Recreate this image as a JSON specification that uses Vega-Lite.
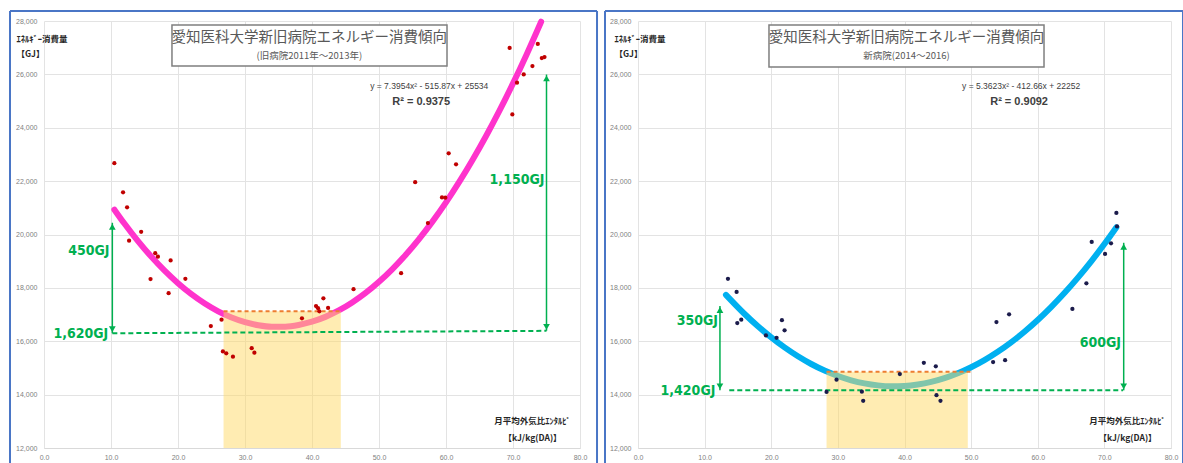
{
  "$schema": "https://vega.github.io/schema/vega-lite/v6.json",
  "padding": {"left": 8, "top": 9, "right": 0, "bottom": 0},
  "bounds": "flush",
  "spacing": 58,
  "background": "white",
  "config": {
    "view": {"stroke": null},
    "font": "Noto Sans CJK JP",
    "axis": {
      "labelFontSize": 7,
      "labelColor": "#7F7F7F",
      "labelFont": "Liberation Sans",
      "ticks": false,
      "gridColor": "#E3E3E3",
      "gridWidth": 1,
      "titleFont": "Noto Sans CJK JP",
      "titleColor": "#262626",
      "titleFontSize": 8.5,
      "titleFontWeight": "bold"
    }
  },
  "datasets": {
    "ptsOld": [
      {"x": 10.5, "y": 22670}, {"x": 11.8, "y": 21580}, {"x": 12.4, "y": 21020}, {"x": 14.5, "y": 20100},
      {"x": 12.7, "y": 19770}, {"x": 16.6, "y": 19300}, {"x": 17.0, "y": 19170}, {"x": 18.9, "y": 19030},
      {"x": 15.9, "y": 18330}, {"x": 21.1, "y": 18340}, {"x": 18.6, "y": 17800}, {"x": 24.9, "y": 16570},
      {"x": 26.5, "y": 16810}, {"x": 26.7, "y": 15620}, {"x": 27.2, "y": 15550}, {"x": 28.2, "y": 15420},
      {"x": 31.0, "y": 15740}, {"x": 31.4, "y": 15570}, {"x": 38.5, "y": 16860}, {"x": 40.6, "y": 17320},
      {"x": 40.9, "y": 17240}, {"x": 41.1, "y": 17120}, {"x": 41.7, "y": 17610}, {"x": 42.4, "y": 17250},
      {"x": 46.2, "y": 17950}, {"x": 53.3, "y": 18550}, {"x": 57.3, "y": 20430}, {"x": 55.4, "y": 21960},
      {"x": 59.4, "y": 21390}, {"x": 59.9, "y": 21380}, {"x": 61.5, "y": 22630}, {"x": 60.4, "y": 23040},
      {"x": 69.9, "y": 24500}, {"x": 70.6, "y": 25690}, {"x": 71.6, "y": 26000}, {"x": 72.9, "y": 26310},
      {"x": 69.5, "y": 26990}, {"x": 73.7, "y": 27140}, {"x": 74.3, "y": 26610}, {"x": 74.7, "y": 26650}
    ],
    "ptsNew": [
      {"x": 13.5, "y": 18340}, {"x": 14.8, "y": 17850}, {"x": 14.9, "y": 16680}, {"x": 15.5, "y": 16810},
      {"x": 19.2, "y": 16220}, {"x": 20.8, "y": 16130}, {"x": 21.6, "y": 16790}, {"x": 22.0, "y": 16410},
      {"x": 28.3, "y": 14100}, {"x": 29.8, "y": 14560}, {"x": 33.6, "y": 14110}, {"x": 33.8, "y": 13770},
      {"x": 39.3, "y": 14770}, {"x": 42.9, "y": 15190}, {"x": 44.7, "y": 15060}, {"x": 44.8, "y": 13980},
      {"x": 45.4, "y": 13770}, {"x": 53.3, "y": 15220}, {"x": 53.8, "y": 16720}, {"x": 55.1, "y": 15290},
      {"x": 55.7, "y": 17010}, {"x": 65.2, "y": 17210}, {"x": 67.3, "y": 18170}, {"x": 68.1, "y": 19720},
      {"x": 70.1, "y": 19270}, {"x": 71.0, "y": 19670}, {"x": 71.8, "y": 20810}, {"x": 71.9, "y": 20300}
    ],
    "fitOld": [
      {"x": 10.5, "y": 20933}, {"x": 12, "y": 20409}, {"x": 14, "y": 19761}, {"x": 16, "y": 19173},
      {"x": 18, "y": 18645}, {"x": 20, "y": 18175}, {"x": 22, "y": 17764}, {"x": 24, "y": 17413},
      {"x": 26, "y": 17121}, {"x": 28, "y": 16888}, {"x": 30, "y": 16714}, {"x": 32, "y": 16599},
      {"x": 34, "y": 16544}, {"x": 36, "y": 16547}, {"x": 38, "y": 16610}, {"x": 40, "y": 16732},
      {"x": 42, "y": 16913}, {"x": 44, "y": 17153}, {"x": 46, "y": 17453}, {"x": 48, "y": 17811},
      {"x": 50, "y": 18229}, {"x": 52, "y": 18706}, {"x": 54, "y": 19242}, {"x": 56, "y": 19837},
      {"x": 58, "y": 20492}, {"x": 60, "y": 21205}, {"x": 62, "y": 21978}, {"x": 64, "y": 22810},
      {"x": 66, "y": 23701}, {"x": 68, "y": 24651}, {"x": 70, "y": 25661}, {"x": 72, "y": 26729},
      {"x": 74.2, "y": 27973}
    ],
    "fitNew": [
      {"x": 13.2, "y": 17739}, {"x": 16, "y": 17022}, {"x": 18, "y": 16562}, {"x": 20, "y": 16144},
      {"x": 22, "y": 15769}, {"x": 24, "y": 15437}, {"x": 26, "y": 15148}, {"x": 28, "y": 14902},
      {"x": 30, "y": 14698}, {"x": 32, "y": 14538}, {"x": 34, "y": 14420}, {"x": 36, "y": 14346},
      {"x": 38, "y": 14314}, {"x": 40, "y": 14325}, {"x": 42, "y": 14379}, {"x": 44, "y": 14476},
      {"x": 46, "y": 14616}, {"x": 48, "y": 14799}, {"x": 50, "y": 15025}, {"x": 52, "y": 15293},
      {"x": 54, "y": 15605}, {"x": 56, "y": 15959}, {"x": 58, "y": 16357}, {"x": 60, "y": 16797},
      {"x": 62, "y": 17280}, {"x": 64, "y": 17806}, {"x": 66, "y": 18375}, {"x": 68, "y": 18986},
      {"x": 70, "y": 19641}, {"x": 71.8, "y": 20267}
    ]
  },
  "hconcat": [
    {
      "width": 536,
      "height": 427,
      "encoding": {
        "x": {"field": "x", "type": "quantitative", "scale": {"domain": [0, 80], "nice": false, "zero": false},
          "axis": {"values": [0, 10, 20, 30, 40, 50, 60, 70, 80], "format": ".1f", "labelFlush": false, "labelPadding": 5,
            "domainColor": "#D9D9D9", "title": ["月平均外気比ｴﾝﾀﾙﾋﾟ", "【kJ/kg(DA)】"], "titleX": 488, "titleY": -32,
            "titleAlign": "center", "titleBaseline": "top", "titleLineHeight": 17}},
        "y": {"field": "y", "type": "quantitative", "scale": {"domain": [12000, 28000], "nice": false, "zero": false},
          "axis": {"values": [12000, 14000, 16000, 18000, 20000, 22000, 24000, 26000, 28000], "format": ",.0f", "labelPadding": 7,
            "domain": false, "title": ["ｴﾈﾙｷﾞｰ消費量", "【GJ】"], "titleX": -28, "titleY": 13, "titleAngle": 0,
            "titleAlign": "left", "titleBaseline": "top", "titleLineHeight": 15}}
      },
      "layer": [
        {
          "data": {"name": "fitOld"},
          "mark": {"type": "line", "color": "#FF33CC", "strokeWidth": 6, "interpolate": "monotone", "strokeCap": "round"}
        },
        {
          "data": {"values": [{"x": 26.8, "x2": 44.3, "y": 12000, "y2": 17120}]},
          "mark": {"type": "rect", "color": "#FFD966", "opacity": 0.5},
          "encoding": {"x2": {"field": "x2"}, "y2": {"field": "y2"}}
        },
        {
          "data": {"values": [{"x": 26.8, "x2": 44.3, "y": 17120, "y2": 17120}]},
          "mark": {"type": "rule", "color": "#ED7D31", "strokeWidth": 2, "strokeDash": [4, 3]},
          "encoding": {"x2": {"field": "x2"}, "y2": {"field": "y2"}}
        },
        {
          "data": {"values": [{"x": 10.2, "x2": 75.0, "y": 16300, "y2": 16390}]},
          "mark": {"type": "rule", "color": "#00B050", "strokeWidth": 2, "strokeDash": [5, 3]},
          "encoding": {"x2": {"field": "x2"}, "y2": {"field": "y2"}}
        },
        {
          "data": {"values": [{"x": 10.2, "x2": 10.2, "y": 16300, "y2": 20440}, {"x": 75.0, "x2": 75.0, "y": 16390, "y2": 26000}]},
          "mark": {"type": "rule", "color": "#00B050", "strokeWidth": 1.5},
          "encoding": {"x2": {"field": "x2"}, "y2": {"field": "y2"}}
        },
        {
          "data": {"values": [{"x": 10.2, "y": 20290}, {"x": 75.0, "y": 25850}]},
          "mark": {"type": "point", "shape": "triangle-up", "filled": true, "color": "#00B050", "size": 45, "opacity": 1}
        },
        {
          "data": {"values": [{"x": 10.2, "y": 16450}, {"x": 75.0, "y": 16540}]},
          "mark": {"type": "point", "shape": "triangle-down", "filled": true, "color": "#00B050", "size": 45, "opacity": 1}
        },
        {
          "data": {"name": "ptsOld"},
          "mark": {"type": "circle", "color": "#C00000", "size": 18, "opacity": 1}
        },
        {
          "data": {"values": [{"x": 19.1, "x2": 60.15, "y": 27850, "y2": 26314}]},
          "mark": {"type": "rect", "fill": "white", "stroke": "#7F7F7F", "strokeWidth": 1.5},
          "encoding": {"x2": {"field": "x2"}, "y2": {"field": "y2"}}
        },
        {
          "data": {"values": [{"x": 39.6, "y": 27370, "t": "愛知医科大学新旧病院エネルギー消費傾向"}]},
          "mark": {"type": "text", "fontSize": 14.5, "color": "#595959", "baseline": "middle", "font": "Noto Sans CJK JP"},
          "encoding": {"text": {"field": "t"}}
        },
        {
          "data": {"values": [{"x": 39.6, "y": 26690, "t": "(旧病院2011年～2013年)"}]},
          "mark": {"type": "text", "fontSize": 9.5, "color": "#595959", "baseline": "middle", "font": "Noto Sans CJK JP"},
          "encoding": {"text": {"field": "t"}}
        },
        {
          "data": {"values": [{"x": 57.5, "y": 25564, "t": "y = 7.3954x² - 515.87x + 25534"}]},
          "mark": {"type": "text", "fontSize": 8.5, "color": "#404040", "baseline": "middle", "font": "Liberation Sans Narrow, Liberation Sans"},
          "encoding": {"text": {"field": "t"}}
        },
        {
          "data": {"values": [{"x": 56.3, "y": 24965, "t": "R² = 0.9375"}]},
          "mark": {"type": "text", "fontSize": 11, "fontWeight": "bold", "color": "#404040", "baseline": "middle", "font": "Liberation Sans Narrow, Liberation Sans"},
          "encoding": {"text": {"field": "t"}}
        },
        {
          "data": {"values": [{"x": 6.7, "y": 19382, "t": "450GJ"}, {"x": 5.5, "y": 16272, "t": "1,620GJ"}, {"x": 70.6, "y": 22042, "t": "1,150GJ"}]},
          "mark": {"type": "text", "fontSize": 14, "fontWeight": "bold", "color": "#00B050", "baseline": "middle", "font": "Liberation Sans Narrow, DejaVu Sans Condensed, Liberation Sans"},
          "encoding": {"text": {"field": "t"}}
        },
        {
          "data": {"values": [
            {"x": -5.075, "y": 28374.7, "x2": -5.075, "y2": 11438},
            {"x": -5.075, "y": 28374.7, "x2": 82.54, "y2": 28374.7},
            {"x": 82.54, "y": 28374.7, "x2": 82.54, "y2": 11438}
          ]},
          "mark": {"type": "rule", "color": "#4A76C6", "strokeWidth": 2, "clip": false},
          "encoding": {"x2": {"field": "x2"}, "y2": {"field": "y2"}}
        }
      ]
    },
    {
      "width": 533,
      "height": 427,
      "encoding": {
        "x": {"field": "x", "type": "quantitative", "scale": {"domain": [0, 80], "nice": false, "zero": false},
          "axis": {"values": [0, 10, 20, 30, 40, 50, 60, 70, 80], "format": ".1f", "labelFlush": false, "labelPadding": 5,
            "domainColor": "#D9D9D9", "title": ["月平均外気比ｴﾝﾀﾙﾋﾟ", "【kJ/kg(DA)】"], "titleX": 489, "titleY": -32,
            "titleAlign": "center", "titleBaseline": "top", "titleLineHeight": 17}},
        "y": {"field": "y", "type": "quantitative", "scale": {"domain": [12000, 28000], "nice": false, "zero": false},
          "axis": {"values": [12000, 14000, 16000, 18000, 20000, 22000, 24000, 26000, 28000], "format": ",.0f", "labelPadding": 7,
            "domain": false, "title": ["ｴﾈﾙｷﾞｰ消費量", "【GJ】"], "titleX": -24, "titleY": 13, "titleAngle": 0,
            "titleAlign": "left", "titleBaseline": "top", "titleLineHeight": 15}}
      },
      "layer": [
        {
          "data": {"name": "fitNew"},
          "mark": {"type": "line", "color": "#00B0F0", "strokeWidth": 6, "interpolate": "monotone", "strokeCap": "round"}
        },
        {
          "data": {"values": [{"x": 28.3, "x2": 49.5, "y": 12000, "y2": 14860}]},
          "mark": {"type": "rect", "color": "#FFD966", "opacity": 0.5},
          "encoding": {"x2": {"field": "x2"}, "y2": {"field": "y2"}}
        },
        {
          "data": {"values": [{"x": 28.3, "x2": 49.9, "y": 14860, "y2": 14860}]},
          "mark": {"type": "rule", "color": "#ED7D31", "strokeWidth": 2, "strokeDash": [4, 3]},
          "encoding": {"x2": {"field": "x2"}, "y2": {"field": "y2"}}
        },
        {
          "data": {"values": [{"x": 13.7, "x2": 72.8, "y": 14160, "y2": 14160}]},
          "mark": {"type": "rule", "color": "#00B050", "strokeWidth": 2, "strokeDash": [5, 3]},
          "encoding": {"x2": {"field": "x2"}, "y2": {"field": "y2"}}
        },
        {
          "data": {"values": [{"x": 12.3, "x2": 12.3, "y": 14160, "y2": 17320}, {"x": 72.9, "x2": 72.9, "y": 14160, "y2": 19690}]},
          "mark": {"type": "rule", "color": "#00B050", "strokeWidth": 1.5},
          "encoding": {"x2": {"field": "x2"}, "y2": {"field": "y2"}}
        },
        {
          "data": {"values": [{"x": 12.3, "y": 17170}, {"x": 72.9, "y": 19540}]},
          "mark": {"type": "point", "shape": "triangle-up", "filled": true, "color": "#00B050", "size": 45, "opacity": 1}
        },
        {
          "data": {"values": [{"x": 12.3, "y": 14310}, {"x": 72.9, "y": 14310}]},
          "mark": {"type": "point", "shape": "triangle-down", "filled": true, "color": "#00B050", "size": 45, "opacity": 1}
        },
        {
          "data": {"name": "ptsNew"},
          "mark": {"type": "circle", "color": "#1B1B4B", "size": 18, "opacity": 1}
        },
        {
          "data": {"values": [{"x": 19.66, "x2": 60.94, "y": 27850, "y2": 26280}]},
          "mark": {"type": "rect", "fill": "white", "stroke": "#7F7F7F", "strokeWidth": 1.5},
          "encoding": {"x2": {"field": "x2"}, "y2": {"field": "y2"}}
        },
        {
          "data": {"values": [{"x": 40.3, "y": 27370, "t": "愛知医科大学新旧病院エネルギー消費傾向"}]},
          "mark": {"type": "text", "fontSize": 14.5, "color": "#595959", "baseline": "middle", "font": "Noto Sans CJK JP"},
          "encoding": {"text": {"field": "t"}}
        },
        {
          "data": {"values": [{"x": 40.3, "y": 26690, "t": "新病院(2014～2016)"}]},
          "mark": {"type": "text", "fontSize": 9.5, "color": "#595959", "baseline": "middle", "font": "Noto Sans CJK JP"},
          "encoding": {"text": {"field": "t"}}
        },
        {
          "data": {"values": [{"x": 57.5, "y": 25564, "t": "y = 5.3623x² - 412.66x + 22252"}]},
          "mark": {"type": "text", "fontSize": 8.5, "color": "#404040", "baseline": "middle", "font": "Liberation Sans Narrow, Liberation Sans"},
          "encoding": {"text": {"field": "t"}}
        },
        {
          "data": {"values": [{"x": 57.2, "y": 24965, "t": "R² = 0.9092"}]},
          "mark": {"type": "text", "fontSize": 11, "fontWeight": "bold", "color": "#404040", "baseline": "middle", "font": "Liberation Sans Narrow, Liberation Sans"},
          "encoding": {"text": {"field": "t"}}
        },
        {
          "data": {"values": [{"x": 8.9, "y": 16759, "t": "350GJ"}, {"x": 7.5, "y": 14136, "t": "1,420GJ"}, {"x": 69.4, "y": 15933, "t": "600GJ"}]},
          "mark": {"type": "text", "fontSize": 14, "fontWeight": "bold", "color": "#00B050", "baseline": "middle", "font": "Liberation Sans Narrow, DejaVu Sans Condensed, Liberation Sans"},
          "encoding": {"text": {"field": "t"}}
        },
        {
          "data": {"values": [
            {"x": -4.953, "y": 28374.7, "x2": -4.953, "y2": 11438},
            {"x": -4.953, "y": 28374.7, "x2": 81.80, "y2": 28374.7},
            {"x": 81.80, "y": 28374.7, "x2": 81.80, "y2": 11438}
          ]},
          "mark": {"type": "rule", "color": "#4A76C6", "strokeWidth": 2, "clip": false},
          "encoding": {"x2": {"field": "x2"}, "y2": {"field": "y2"}}
        }
      ]
    }
  ]
}
